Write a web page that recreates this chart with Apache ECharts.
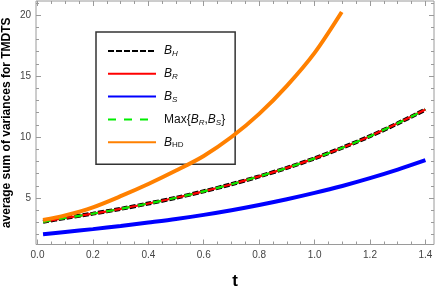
<!DOCTYPE html>
<html><head><meta charset="utf-8">
<script src="https://cdn.jsdelivr.net/npm/echarts@6/dist/echarts.min.js"></script>
<style>html,body{margin:0;padding:0;background:#fff}#c{width:436px;height:287px}</style>
</head><body><div id="c"></div>
<script>
// t values and series values
const tMain = [0.02,0.1,0.2,0.3,0.4,0.5,0.6,0.7,0.8,0.9,1.0,1.1,1.2,1.3,1.4];
const bH   = [3.05,3.36,3.72,4.11,4.55,5.02,5.55,6.13,6.77,7.47,8.25,9.12,10.07,11.12,12.25];
const bR   = [3.05,3.36,3.72,4.11,4.55,5.02,5.55,6.13,6.77,7.47,8.25,9.12,10.07,11.12,12.25];
const bMax = [3.05,3.36,3.72,4.11,4.55,5.02,5.55,6.13,6.77,7.47,8.25,9.12,10.07,11.12,12.25];
const bS   = [2.03,2.22,2.45,2.71,2.99,3.28,3.62,4.00,4.43,4.90,5.42,5.99,6.63,7.33,8.10];
const tHD  = [0.02,0.1,0.2,0.3,0.4,0.5,0.6,0.7,0.8,0.9,1.0,1.098];
const bHD  = [3.20,3.58,4.24,5.15,6.15,7.25,8.45,10.0,11.9,14.2,16.9,20.25];

// tick label ranges
const xTickFirst = 0, xTickLast = 1.4, xTickStep = 0.2, xMinorSplit = 4;
const yTickFirst = 5, yTickLast = 20, yTickStep = 5;
const yMinorFirst = 2, yMinorLast = 21, yMinorStep = 1;

// plot frame (pixels) and value range
const W = 436, H = 287;
const L = 36, R = 434, T = 1, B = 244.5;
const X_MIN = -0.0054, X_MAX = 1.431, Y_MIN = 1.19, Y_MAX = 21.15;
const xPix = v => L + (v - X_MIN) / (X_MAX - X_MIN) * (R - L);
const yPix = v => B - (v - Y_MIN) / (Y_MAX - Y_MIN) * (B - T);

const pair = (xs, ys) => xs.map((x, i) => [x, ys[i]]);
const FRAME = '#9a9a9a';
const FONT = 'Liberation Sans, Arial, sans-serif';
const hidden = () => ({ show: false });

const gBase = { containLabel: false, outerBoundsMode: 'none' };
const grids = [
  Object.assign({ left: L, right: W - R, top: T, bottom: H - B, show: true, borderColor: FRAME, borderWidth: 1, backgroundColor: 'transparent' }, gBase),
  Object.assign({ left: xPix(xTickFirst), right: W - xPix(xTickLast), top: T, bottom: H - B }, gBase),
  Object.assign({ left: L, right: W - R, top: yPix(yTickLast), bottom: H - yPix(yTickFirst) }, gBase),
  Object.assign({ left: L, right: W - R, top: yPix(yMinorLast), bottom: H - yPix(yMinorFirst) }, gBase)
];

const tickLbl = () => ({ color: '#444', fontSize: 10, fontFamily: FONT });
function xTickAxis(pos, labels) {
  return { type: 'value', gridIndex: 1, position: pos, min: xTickFirst, max: xTickLast, interval: xTickStep,
    axisLine: hidden(), splitLine: hidden(),
    axisTick: { show: true, inside: true, length: 5, lineStyle: { color: FRAME } },
    minorTick: { show: true, splitNumber: xMinorSplit, length: 3, lineStyle: { color: FRAME } },
    axisLabel: labels ? Object.assign({ show: true, margin: 6, formatter: v => v.toFixed(1) }, tickLbl()) : hidden() };
}
function yTickAxis(grid, pos, min, max, step, len, labels) {
  return { type: 'value', gridIndex: grid, position: pos, min: min, max: max, interval: step,
    axisLine: hidden(), splitLine: hidden(),
    axisTick: { show: true, inside: true, length: len, lineStyle: { color: FRAME } },
    axisLabel: labels ? Object.assign({ show: true, margin: 5 }, tickLbl()) : hidden() };
}
const plain = (g, extra) => Object.assign({ type: 'value', gridIndex: g, axisLine: hidden(), axisTick: hidden(), axisLabel: hidden(), splitLine: hidden() }, extra || {});

const legendText = {
  'BH': '{b|B}{s|H}',
  'BR': '{b|B}{s|R}',
  'BS': '{b|B}{s|S}',
  'MAX': 'Max{{b|B}{s|R},{b|B}{s|S}}',
  'BHD': '{b|B}{u|HD}'
};

const chart = echarts.init(document.getElementById('c'), null, { renderer: 'canvas' });
chart.setOption({
  animation: false,
  backgroundColor: '#fff',
  grid: grids,
  xAxis: [
    plain(0, { min: X_MIN, max: X_MAX, name: 't', nameLocation: 'middle', nameGap: 28,
      nameTextStyle: { fontSize: 17, fontWeight: 'bold', color: '#000', fontFamily: FONT } }),
    xTickAxis('bottom', true),
    xTickAxis('top', false),
    plain(2, { min: 0, max: 1 }),
    plain(3, { min: 0, max: 1 })
  ],
  yAxis: [
    plain(0, { min: Y_MIN, max: Y_MAX, name: 'average sum of variances for TMDTS', nameLocation: 'middle', nameGap: 23,
      nameTextStyle: { fontSize: 12, fontWeight: 'bold', color: '#000', fontFamily: FONT } }),
    plain(1, { min: 0, max: 1 }),
    yTickAxis(2, 'left', yTickFirst, yTickLast, yTickStep, 5, true),
    yTickAxis(2, 'right', yTickFirst, yTickLast, yTickStep, 5, false),
    yTickAxis(3, 'left', yMinorFirst, yMinorLast, yMinorStep, 3, false),
    yTickAxis(3, 'right', yMinorFirst, yMinorLast, yMinorStep, 3, false)
  ],
  legend: {
    orient: 'vertical', left: 96, top: 32, padding: [13, 10, 15, 11],
    itemWidth: 48, itemHeight: 14, itemGap: 9.8,
    borderColor: '#333', borderWidth: 1.5, backgroundColor: 'transparent',
    itemStyle: { opacity: 0 },
    data: ['BH', 'BR', 'BS', 'MAX', 'BHD'],
    formatter: n => legendText[n],
    textStyle: {
      color: '#111', fontSize: 12, fontFamily: FONT, padding: [0, 0, 0, 3],
      rich: {
        b: { fontSize: 12, fontStyle: 'italic', fontFamily: FONT, color: '#111', lineHeight: 14, verticalAlign: 'middle' },
        s: { fontSize: 8, fontStyle: 'italic', fontFamily: FONT, color: '#111', lineHeight: 8, verticalAlign: 'bottom' },
        u: { fontSize: 8, fontFamily: FONT, color: '#111', lineHeight: 8, verticalAlign: 'bottom' }
      }
    }
  },
  series: [
    { name: 'BH', type: 'line', xAxisIndex: 0, yAxisIndex: 0, data: pair(tMain, bH), smooth: 0.3, symbol: 'none', color: '#000',
      lineStyle: { color: '#000', width: 4, type: [6, 2] }, emphasis: { disabled: true }, z: 2 },
    { name: 'BR', type: 'line', xAxisIndex: 0, yAxisIndex: 0, data: pair(tMain, bR), smooth: 0.3, symbol: 'none', color: '#ff0000',
      lineStyle: { color: '#ff0000', width: 2.2 }, emphasis: { disabled: true }, z: 3 },
    { name: 'BS', type: 'line', xAxisIndex: 0, yAxisIndex: 0, data: pair(tMain, bS), smooth: 0.3, symbol: 'none', color: '#0000ff',
      lineStyle: { color: '#0000ff', width: 4 }, emphasis: { disabled: true }, z: 4 },
    { name: 'MAX', type: 'line', xAxisIndex: 0, yAxisIndex: 0, data: pair(tMain, bMax), smooth: 0.3, symbol: 'none', color: '#00ee00',
      lineStyle: { color: '#00ee00', width: 2.2, type: [8, 8] }, emphasis: { disabled: true }, z: 5 },
    { name: 'BHD', type: 'line', xAxisIndex: 0, yAxisIndex: 0, data: pair(tHD, bHD), smooth: 0.3, symbol: 'none', color: '#ff8000',
      lineStyle: { color: '#ff8000', width: 4 }, emphasis: { disabled: true }, z: 6 }
  ]
});
</script>
</body></html>
